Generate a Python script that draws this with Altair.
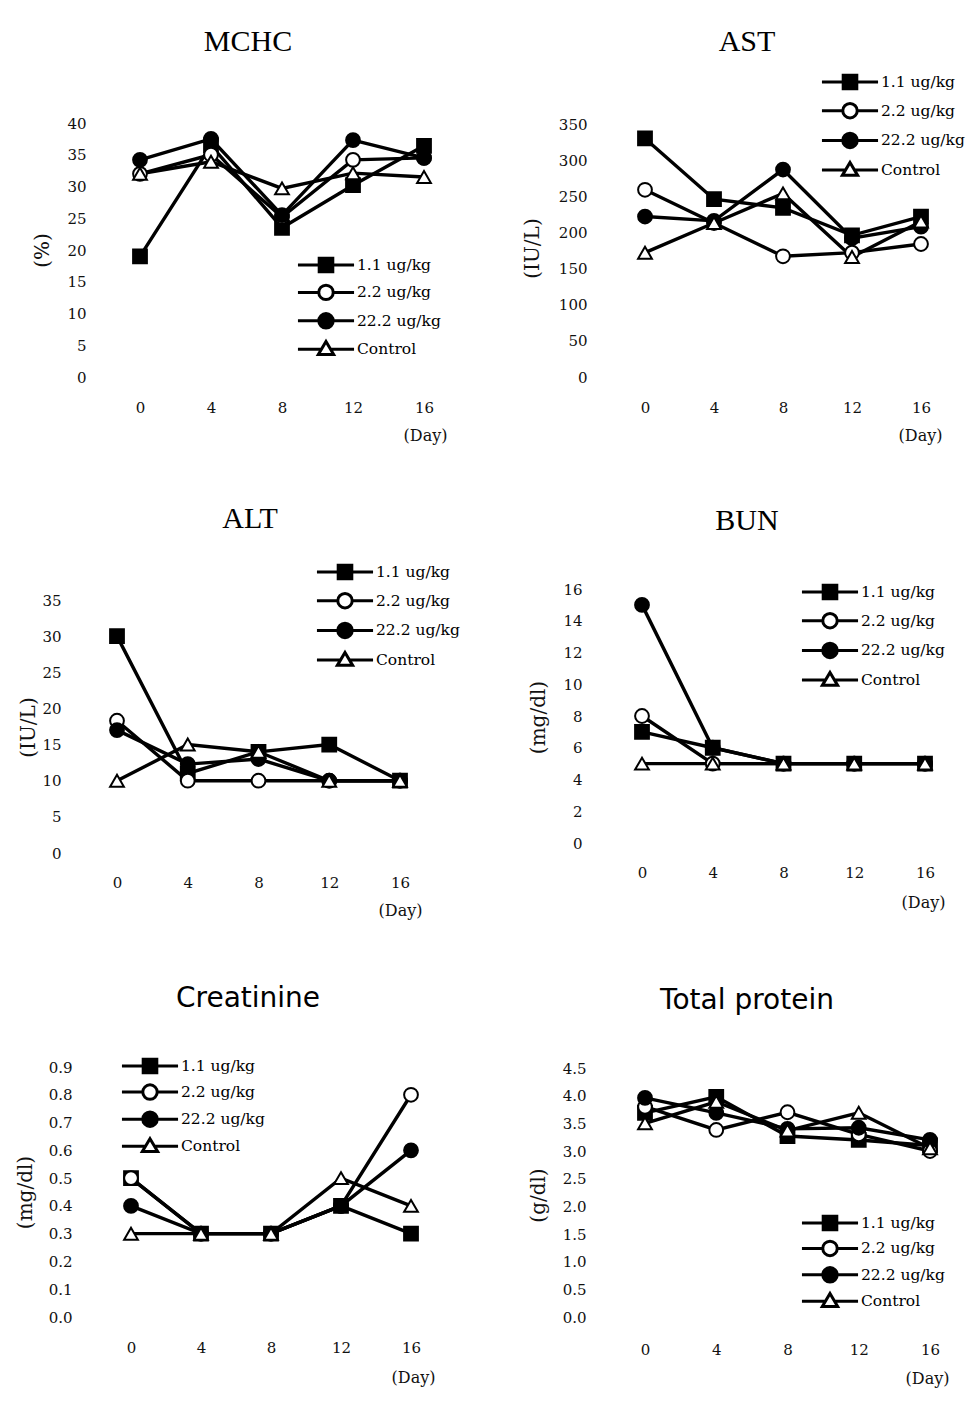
import altair as alt
import pandas as pd

# ---------------- data ----------------
days = [0, 4, 8, 12, 16]
groups = ["1.1 ug/kg", "2.2 ug/kg", "22.2 ug/kg", "Control"]

mchc_11 = [19, 36.5, 23.5, 30.2, 36.4]
mchc_22 = [32, 35, 25.2, 34.2, 34.5]
mchc_222 = [34.2, 37.5, 25.5, 37.3, 34.5]
mchc_ctl = [32, 33.9, 29.7, 32.1, 31.5]

ast_11 = [330, 246, 234, 196, 222]
ast_22 = [259, 213, 167, 172, 184]
ast_222 = [222, 216, 287, 192, 208]
ast_ctl = [172, 213, 254, 166, 215]

alt_11 = [30, 11, 14, 15, 10]
alt_22 = [18.3, 10, 10, 10, 10]
alt_222 = [17, 12.3, 13, 10, 10]
alt_ctl = [10, 15, 14, 10, 10]

bun_11 = [7, 6, 5, 5, 5]
bun_22 = [8, 5, 5, 5, 5]
bun_222 = [15, 6, 5, 5, 5]
bun_ctl = [5, 5, 5, 5, 5]

cre_11 = [0.5, 0.3, 0.3, 0.4, 0.3]
cre_22 = [0.5, 0.3, 0.3, 0.4, 0.8]
cre_222 = [0.4, 0.3, 0.3, 0.4, 0.6]
cre_ctl = [0.3, 0.3, 0.3, 0.5, 0.4]

tp_11 = [3.69, 3.98, 3.27, 3.2, 3.1]
tp_22 = [3.8, 3.38, 3.7, 3.3, 3.0]
tp_222 = [3.96, 3.69, 3.4, 3.42, 3.2]
tp_ctl = [3.5, 3.89, 3.37, 3.69, 3.05]

# ---------------- styles ----------------
point_shapes = ["square", "circle", "circle", "triangle-up"]
point_fills = ["black", "white", "black", "white"]
point_strokes = ["black", "black", "black", "black"]
line_widths = [3.4, 3.4, 3.4, 2.4]
LL = 3.3
legend_paths = [
    f"M{-LL},0H-0.8M0.8,0H{LL}M-0.8,-0.8H0.8V0.8H-0.8Z",
    f"M{-LL},0H-0.85M0.85,0H{LL}M-0.85,0A0.85,0.85 0 1,0 0.85,0A0.85,0.85 0 1,0 -0.85,0Z",
    f"M{-LL},0H-0.85M0.85,0H{LL}M-0.85,0A0.85,0.85 0 1,0 0.85,0A0.85,0.85 0 1,0 -0.85,0Z",
    f"M{-LL},0H-0.52M0.52,0H{LL}M0,-0.9L0.9,0.62L-0.9,0.62Z",
]
SYM = 289          # legend symbol size (17 px box)
HALF = 10          # half of legend entry box
ENTRY_H = 27.6     # measured height of one legend entry

W = 340
COLS = [100, 600]
ROWS = [(122, 377), (588, 853), (1064, 1317)]
SERIF = "DejaVu Serif"
TITLE_EXTRA = 29


def frame(series):
    rows = []
    for g, vals in zip(groups, series):
        for d, v in zip(days, vals):
            rows.append({"day": d, "value": v, "group": g})
    return pd.DataFrame(rows)


def panel(series, title, tfont, tsize, ylabel, yticks, yfmt, col, row,
          day0_px, day16_px, y0_px, ytop_px, ytop_val, ylab_right,
          xlab_pad, ytitle_xy, day_xy, title_cx, title_cy, legend_sym, legend_stride):
    left = COLS[col]
    top, bottom = ROWS[row]
    H = bottom - top
    ppx = (day16_px - day0_px) / 16.0
    x_lo = (left - day0_px) / ppx
    x_hi = (left + W - day0_px) / ppx
    ppy = (y0_px - ytop_px) / ytop_val
    y_lo = -(bottom - y0_px) / ppy
    y_hi = (y0_px - top) / ppy

    df = frame(series)
    xaxis = alt.Axis(values=days, format="d", title="(Day)", labelPadding=xlab_pad,
                     labelBaseline="middle", labelFlush=False, labelOverlap=False,
                     titleX=day_xy[0] - left, titleY=day_xy[1] - bottom,
                     titleFont=SERIF, titleFontSize=16, titleFontWeight="normal",
                     titleBaseline="middle", titleAlign="center")
    yaxis = alt.Axis(values=yticks, format=yfmt, title=ylabel,
                     labelPadding=left - ylab_right, labelFlush=False, labelOverlap=False,
                     titleX=ytitle_xy[0] - left, titleY=ytitle_xy[1] - top,
                     titleAngle=270, titleBaseline="middle", titleAlign="center",
                     titleFont=SERIF, titleFontSize=20, titleFontWeight="normal")
    base = alt.Chart(df).encode(
        x=alt.X("day:Q", scale=alt.Scale(domain=[x_lo, x_hi], nice=False, zero=False), axis=xaxis),
        y=alt.Y("value:Q", scale=alt.Scale(domain=[y_lo, y_hi], nice=False, zero=False), axis=yaxis),
    )
    lines = base.mark_line(color="black").encode(
        detail="group:N",
        strokeWidth=alt.StrokeWidth("group:N", scale=alt.Scale(domain=groups, range=line_widths), legend=None),
    )
    points = base.mark_point(size=190, filled=False, stroke="black", strokeWidth=2, opacity=1).encode(
        shape=alt.Shape("group:N", scale=alt.Scale(domain=groups, range=point_shapes), legend=None),
        fill=alt.Fill("group:N", scale=alt.Scale(domain=groups, range=point_fills), legend=None),
    )
    lx = legend_sym[0] - left - HALF
    ly = legend_sym[1] - top - HALF
    leg = alt.Legend(orient="none", legendX=lx, legendY=ly, title=None, padding=0,
                     rowPadding=round(legend_stride - ENTRY_H, 2), labelOffset=21, symbolSize=SYM,
                     symbolStrokeWidth=3, symbolStrokeColor="black", symbolOpacity=1,
                     labelFont=SERIF, labelFontSize=15.5, labelColor="black",
                     labelLimit=200)
    legend_layer = base.mark_point(size=SYM, strokeWidth=3, opacity=1).encode(
        shape=alt.Shape("group:N", scale=alt.Scale(domain=groups, range=legend_paths), legend=leg),
        fill=alt.Fill("group:N", scale=alt.Scale(domain=groups, range=point_fills), legend=leg),
        stroke=alt.Stroke("group:N", scale=alt.Scale(domain=groups, range=point_strokes), legend=leg),
    ).transform_filter("false")

    # title offset is measured from the top of the view's bounds
    top_label_rel = (ytop_px - top) - 8.5
    bounds_top = min(top_label_rel, ly)
    offset = bounds_top - TITLE_EXTRA - (title_cy - top)
    tp = alt.TitleParams(text=title, font=tfont, fontSize=tsize, fontWeight="normal",
                         color="black", frame="group", anchor="middle", baseline="middle",
                         offset=offset, dx=title_cx - (left + W / 2))
    return alt.layer(lines, points, legend_layer).resolve_scale(
        shape="independent", fill="independent", stroke="independent"
    ).properties(width=W, height=H, title=tp)


p1 = panel([mchc_11, mchc_22, mchc_222, mchc_ctl], "MCHC", "Liberation Serif", 30, "(%)",
           list(range(0, 41, 5)), "d", 0, 0, 140, 424, 377, 123, 40, 86, 30,
           (42, 250), (425, 435), 248, 41, (326, 265), 28)
p2 = panel([ast_11, ast_22, ast_222, ast_ctl], "AST", "Liberation Serif", 30, "(IU/L)",
           list(range(0, 351, 50)), "d", 1, 0, 645, 921, 377, 124, 350, 587, 30,
           (532, 248), (920, 435), 747, 43, (850, 82), 29.3)
p3 = panel([alt_11, alt_22, alt_222, alt_ctl], "ALT", "Liberation Serif", 30, "(IU/L)",
           list(range(0, 36, 5)), "d", 0, 1, 117, 400, 853, 600, 35, 61, 29,
           (28, 727), (400, 910), 250, 520, (345, 572), 29.3)
p4 = panel([bun_11, bun_22, bun_222, bun_ctl], "BUN", "Liberation Serif", 30, "(mg/dl)",
           list(range(0, 17, 2)), "d", 1, 1, 642, 925, 843, 589, 16, 582, 19,
           (538, 717), (923, 902), 747, 520, (830, 592), 29.3)
p5 = panel([cre_11, cre_22, cre_222, cre_ctl], "Creatinine", "DejaVu Sans", 28, "(mg/dl)",
           [round(0.1 * i, 1) for i in range(10)], ".1f", 0, 2, 131, 411, 1317, 1067, 0.9, 72, 30,
           (25, 1192), (413, 1377), 248, 998, (150, 1066), 26.7)
p6 = panel([tp_11, tp_22, tp_222, tp_ctl], "Total protein", "DejaVu Sans", 28, "(g/dl)",
           [0.5 * i for i in range(10)], ".1f", 1, 2, 645, 930, 1317, 1068, 4.5, 586, 32,
           (538, 1195), (927, 1378), 747, 998, (830, 1223), 26)

chart = alt.concat(p1, p2, p3, p4, p5, p6, columns=2,
                   spacing={"row": 211, "column": 160}).properties(
    bounds="flush",
    padding={"left": 7, "top": 18, "right": 5, "bottom": 5},
    background="white",
).configure_view(stroke=None).configure_axis(
    grid=False, domain=False, ticks=False,
    labelFont=SERIF, labelFontSize=15, labelColor="#111", titleColor="#111",
)

chart.save("out.html", embed_options={"renderer": "svg", "actions": False})
